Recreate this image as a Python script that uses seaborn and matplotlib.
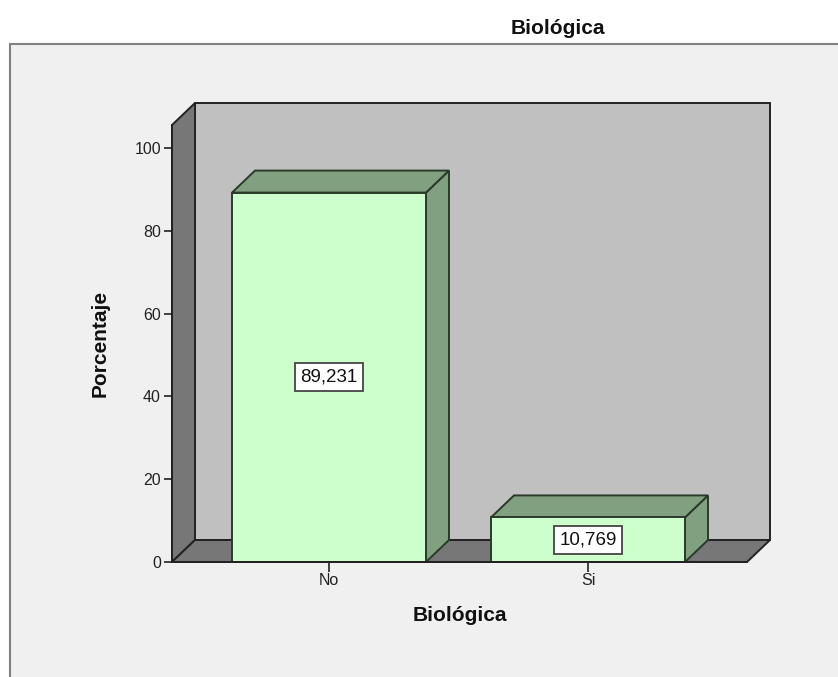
import matplotlib
matplotlib.use("Agg")
import matplotlib.pyplot as plt
import seaborn as sns
import pandas as pd
from matplotlib.patches import Polygon, Rectangle

categories = ["No", "Si"]
values = [89.231, 10.769]
value_labels = ["89,231", "10,769"]
yticks = [0, 20, 40, 60, 80, 100]
title = "Biológica"
xlabel = "Biológica"
ylabel = "Porcentaje"

sns.set_theme(style="white")
plt.rcParams['font.family'] = ['Liberation Sans', 'DejaVu Sans']

W, H = 838, 677
fig = plt.figure(figsize=(W / 100, H / 100), dpi=100)
fig.patch.set_facecolor("white")

# panel background
fig.patches.append(Rectangle((10 / W, -0.01), 1.0, (H - 44) / H + 0.01,
                             transform=fig.transFigure, facecolor="#F0F0F0",
                             edgecolor="#808080", lw=1.5, zorder=-10))

# axes: front plane from x=172..747 px, y=562 (0) .. 125 px
ax_left, ax_right, ax_bot, ax_top = 172, 747, 562, 125
ax = fig.add_axes([ax_left / W, (H - ax_bot) / H, (ax_right - ax_left) / W, (ax_bot - ax_top) / H])
ax.set_facecolor("none")
ax.set_zorder(1)

px_per_unit_y = 4.14
ymax = (ax_bot - ax_top) / px_per_unit_y
px_per_cat = 259.0
xmin = -(329 - ax_left) / px_per_cat
xmax = 1 + (ax_right - 588) / px_per_cat

dx = 23 / px_per_cat
dy = 22 / px_per_unit_y

edge = "#222222"
wall = "#C0C0C0"
dark = "#777777"
lw = 1.4

df = pd.DataFrame({"cat": categories, "val": values})
bw = 194 / px_per_cat
sns.barplot(data=df, x="cat", y="val", order=categories, width=bw, color="#CCFFCC",
            saturation=1, edgecolor="#2a3a2a", linewidth=lw, ax=ax, zorder=2)

ax.set_xlim(xmin, xmax)
ax.set_ylim(0, ymax)

# back wall
ax.add_patch(Polygon([(xmin + dx, dy), (xmax + dx, dy), (xmax + dx, ymax + dy), (xmin + dx, ymax + dy)],
                     closed=True, facecolor=wall, edgecolor=edge, lw=lw, clip_on=False, zorder=0.5))
# left wall
ax.add_patch(Polygon([(xmin, 0), (xmin, ymax), (xmin + dx, ymax + dy), (xmin + dx, dy)],
                     closed=True, facecolor=dark, edgecolor=edge, lw=lw, clip_on=False, zorder=0.6))
# floor
ax.add_patch(Polygon([(xmin, 0), (xmin + dx, dy), (xmax + dx, dy), (xmax, 0)],
                     closed=True, facecolor=dark, edgecolor=edge, lw=lw, clip_on=False, zorder=0.6))

side = "#80A080"
for i, v in enumerate(values):
    x0, x1 = i - bw / 2, i + bw / 2
    ax.add_patch(Polygon([(x1, 0), (x1 + dx, dy), (x1 + dx, v + dy), (x1, v)],
                         closed=True, facecolor=side, edgecolor="#2a3a2a", lw=lw, clip_on=False, zorder=1.9))
    ax.add_patch(Polygon([(x0, v), (x0 + dx, v + dy), (x1 + dx, v + dy), (x1, v)],
                         closed=True, facecolor=side, edgecolor="#2a3a2a", lw=lw, clip_on=False, zorder=1.9))
    ax.text(i, v / 2, value_labels[i], ha="center", va="center", fontsize=13.5, color="#111111", zorder=5,
            bbox=dict(boxstyle="square,pad=0.3", facecolor="white", edgecolor="#444444", lw=1.3))

for s in ["top", "right"]:
    ax.spines[s].set_visible(False)
for s in ["left", "bottom"]:
    ax.spines[s].set_color(edge)
    ax.spines[s].set_linewidth(lw)
    ax.spines[s].set_zorder(3)

ax.set_yticks(yticks)
ax.set_yticklabels([str(t) for t in yticks])
ax.tick_params(axis="y", left=True, direction="out", length=6, width=1.2, color="#222222",
               labelsize=11.5, labelcolor="#222222", pad=2)
ax.tick_params(axis="x", bottom=True, direction="out", length=7, width=1.2, color="#222222",
               labelsize=11.5, labelcolor="#222222", pad=1)

ax.set_xlabel(xlabel, fontsize=15, fontweight="bold", labelpad=13, color="#111111")
ax.set_ylabel(ylabel, fontsize=15, fontweight="bold", labelpad=18, color="#111111")

fig.text(558 / W, 1 - 28 / H, title, ha="center", va="center", fontsize=15, fontweight="bold", color="#111111")

fig.savefig("out.png", dpi=100)
